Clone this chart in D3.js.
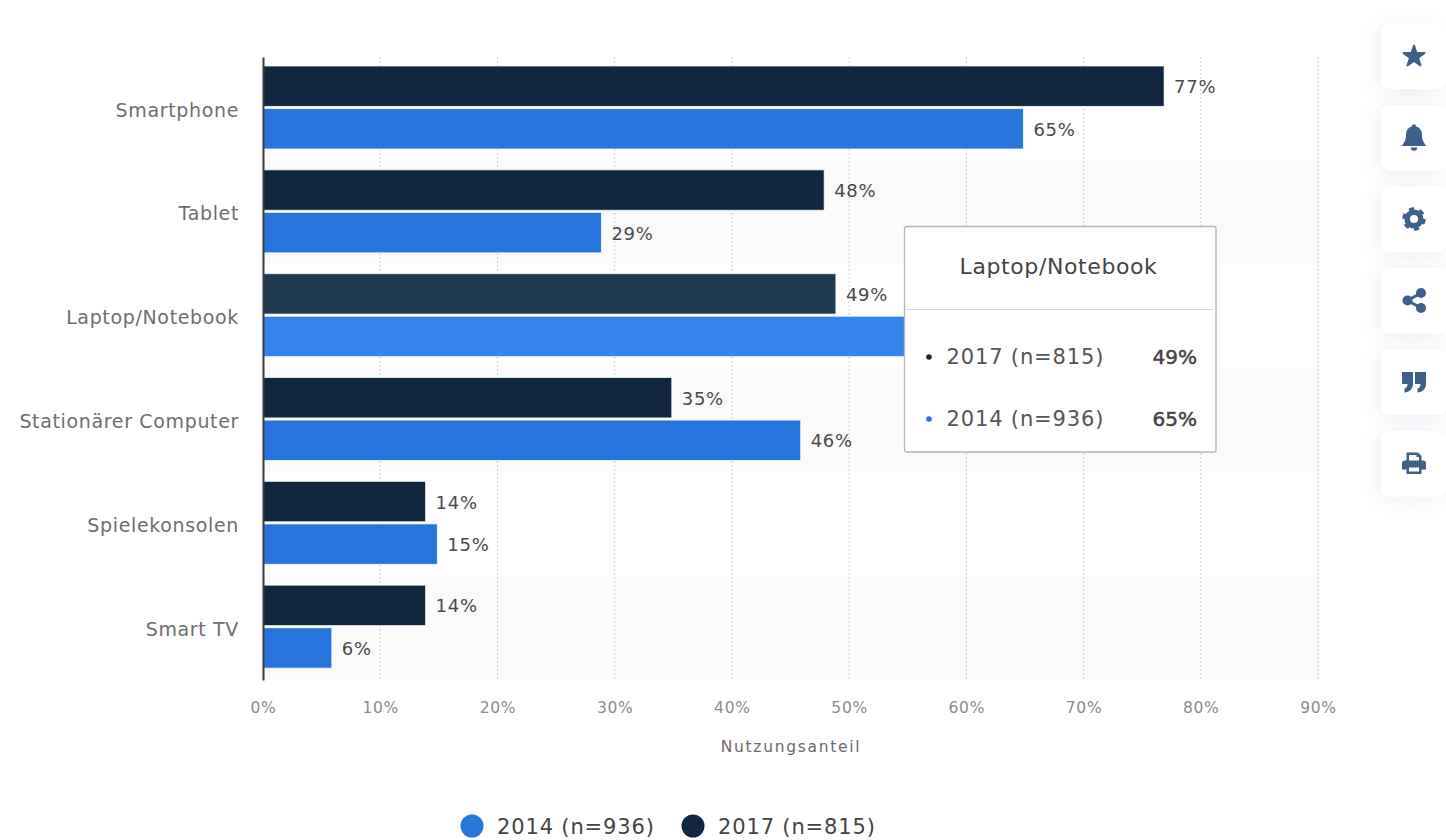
<!DOCTYPE html>
<html lang="de">
<head>
<meta charset="utf-8">
<script src="https://cdn.jsdelivr.net/npm/d3@7"></script>
<style>
  html, body { margin: 0; padding: 0; background: #fff; overflow: hidden; }
  text { font-family: "DejaVu Sans", Verdana, sans-serif; }
</style>
</head>
<body>
<svg id="chart" width="1446" height="840"></svg>
<script>
const categories = ["Smartphone", "Tablet", "Laptop/Notebook", "Stationärer Computer", "Spielekonsolen", "Smart TV"];
const values2017 = [77, 48, 49, 35, 14, 14];
const values2014 = [65, 29, 65, 46, 15, 6];
const seriesNames = ["2017 (n=815)", "2014 (n=936)"];
const legendNames = ["2014 (n=936)", "2017 (n=815)"];
const xTicks = [0, 10, 20, 30, 40, 50, 60, 70, 80, 90];
const axisTitle = "Nutzungsanteil";
const hoveredCategory = "Laptop/Notebook";

const DARK = "#12273f", BLUE = "#2774dc";
const DARK_HOVER = "#203a52", BLUE_HOVER = "#3584ee";

const svg = d3.select("#chart");
const x = d3.scaleLinear().domain([0, 90]).range([263, 1318]);
const y = d3.scaleBand().domain(categories).range([57, 680]);
const series = d3.scaleBand().domain(seriesNames).range([9, 92]).paddingInner(0.05);
const pct = d => d + "%";

// Alternating row shading
svg.append("g").selectAll("rect")
  .data(categories.filter((_, i) => i % 2 === 1))
  .join("rect")
  .attr("x", x(0)).attr("width", x(90) - x(0) + 2)
  .attr("y", d => y(d)).attr("height", y.bandwidth())
  .attr("fill", "#fafafa");

// Dotted vertical grid
svg.append("g").selectAll("line")
  .data(xTicks.slice(1))
  .join("line")
  .attr("x1", d => x(d)).attr("x2", d => x(d))
  .attr("y1", 57).attr("y2", 680)
  .attr("stroke", "#c4c4c4").attr("stroke-width", 1.2)
  .attr("stroke-dasharray", "1.5 2.5");

// Bars, one group per category
const rows = svg.append("g").selectAll("g")
  .data(categories.map((c, i) => ({ c, v: [values2017[i], values2014[i]] })))
  .join("g")
  .attr("transform", d => `translate(0,${y(d.c)})`);

rows.selectAll("rect")
  .data(d => d.v.map((v, j) => ({ v, j, hover: d.c === hoveredCategory })))
  .join("rect")
  .attr("x", x(0))
  .attr("y", d => series(seriesNames[d.j]))
  .attr("width", d => x(d.v) - x(0) - 1.5)
  .attr("height", series.bandwidth())
  .attr("fill", d => d.hover ? (d.j ? BLUE_HOVER : DARK_HOVER) : (d.j ? BLUE : DARK))
  .attr("stroke", "#fff").attr("stroke-opacity", 0.75).attr("stroke-width", 1);

// Value labels; the hovered row's 2014 label sits under the tooltip and stays out
rows.selectAll("text")
  .data(d => d.v.map((v, j) => ({ v, j, covered: d.c === hoveredCategory && j === 1 })).filter(d => !d.covered))
  .join("text")
  .attr("x", d => x(d.v) + 8.5)
  .attr("y", d => series(seriesNames[d.j]) + series.bandwidth() / 2 + 7)
  .attr("font-size", 18).attr("letter-spacing", 0.7).attr("fill", "#4a4a4a")
  .text(d => pct(d.v));

// Category axis
const yAxis = svg.append("g")
  .attr("transform", `translate(${x(0)},0)`)
  .call(d3.axisLeft(y).tickSize(0).tickPadding(24));
yAxis.select(".domain").attr("stroke", "#3a3a3a").attr("stroke-width", 2);
yAxis.selectAll("text")
  .attr("font-size", 19).attr("letter-spacing", 0.65).attr("fill", "#6e6e6e").attr("dy", "0.4em")
  .style("font-family", '"DejaVu Sans", Verdana, sans-serif');

// Value axis labels
const xAxis = svg.append("g")
  .attr("transform", "translate(0,680)")
  .call(d3.axisBottom(x).tickValues(xTicks).tickFormat(pct).tickSize(0).tickPadding(22));
xAxis.select(".domain").remove();
xAxis.selectAll("text")
  .attr("font-size", 15.5).attr("letter-spacing", 0.7).attr("fill", "#8c8c8c")
  .style("font-family", '"DejaVu Sans", Verdana, sans-serif');

svg.append("text")
  .attr("x", 791).attr("y", 752).attr("text-anchor", "middle")
  .attr("font-size", 15.5).attr("letter-spacing", 1.7).attr("fill", "#6a6a6a")
  .text(axisTitle);

// Legend
const legendX = [472, 693];
const legend = svg.append("g").selectAll("g")
  .data(legendNames)
  .join("g")
  .attr("transform", (_, i) => `translate(${legendX[i]},826)`);
legend.append("circle").attr("r", 11.5).attr("fill", (_, i) => i ? DARK : BLUE);
legend.append("text")
  .attr("x", 25).attr("y", 8)
  .attr("font-size", 21).attr("letter-spacing", 0.85).attr("fill", "#444")
  .text(d => d);

// Hover tooltip
const hoverIndex = categories.indexOf(hoveredCategory);
const tip = svg.append("g").attr("transform", "translate(904.5,226.5)");
tip.append("rect").attr("width", 311.5).attr("height", 225.5).attr("rx", 2)
  .attr("fill", "#fff").attr("stroke", "#b5b5b5").attr("stroke-width", 1.3);
tip.append("line").attr("x1", 1).attr("x2", 309).attr("y1", 83).attr("y2", 83)
  .attr("stroke", "#d8d8d8").attr("stroke-width", 1.2);
tip.append("text").attr("x", 154).attr("y", 47).attr("text-anchor", "middle")
  .attr("font-size", 22).attr("letter-spacing", 0.6).attr("fill", "#444").text(hoveredCategory);
const tipRows = tip.selectAll(".row")
  .data([values2017[hoverIndex], values2014[hoverIndex]])
  .join("g")
  .attr("class", "row")
  .attr("transform", (_, i) => `translate(0,${130.5 + i * 62})`);
tipRows.append("circle").attr("cx", 24.5).attr("r", 2.8).attr("fill", (_, i) => i ? BLUE : DARK);
tipRows.append("text").attr("x", 42).attr("y", 7)
  .attr("font-size", 21).attr("letter-spacing", 0.85).attr("fill", "#555")
  .text((_, i) => seriesNames[i]);
tipRows.append("text").attr("x", 292.5).attr("y", 7).attr("text-anchor", "end")
  .attr("font-size", 20).attr("fill", "#444").attr("stroke", "#444").attr("stroke-width", 0.5).text(pct);

// Side toolbar
const defs = svg.append("defs");
const shadow = defs.append("filter").attr("id", "soft")
  .attr("x", "-60%").attr("y", "-60%").attr("width", "220%").attr("height", "220%");
shadow.append("feDropShadow").attr("dx", -3).attr("dy", 3).attr("stdDeviation", 10)
  .attr("flood-color", "#5a6f96").attr("flood-opacity", 0.12);

const toolIcons = ["star", "bell", "gear", "share", "quote", "print"];
const ICON = "#3f6088";
const tools = svg.append("g").selectAll("g")
  .data(toolIcons)
  .join("g")
  .attr("transform", (_, i) => `translate(1381,${23.5 + i * 81.5})`);
tools.append("rect")
  .attr("width", 65.5).attr("height", 65.5).attr("rx", 9)
  .attr("fill", "#fff").attr("filter", "url(#soft)");

const icon = tools.append("g").attr("transform", "translate(33,32.5)").attr("fill", ICON);
const draw = {
  star: g => g.append("path").attr("d", d3.symbol(d3.symbolStar, 135)())
    .attr("transform", "translate(0,0.5)")
    .attr("stroke", ICON).attr("stroke-width", 2).attr("stroke-linejoin", "round"),
  bell: g => {
    g.append("path").attr("d", "M-12.5,8.5 C-8.5,4 -8,1 -8,-3 C-8,-8 -4.5,-10.5 -2.2,-11 C-2.2,-14 2.2,-14 2.2,-11 C4.5,-10.5 8,-8 8,-3 C8,1 8.5,4 12.5,8.5 Z");
    g.append("path").attr("d", "M-3.2,10 H3.2 A3.2,3.2 0 0 1 -3.2,10 Z");
  },
  gear: g => {
    g.append("circle").attr("r", 6.8).attr("fill", "none").attr("stroke", ICON).attr("stroke-width", 5.5);
    g.append("circle").attr("r", 10).attr("fill", "none").attr("stroke", ICON).attr("stroke-width", 3.4)
      .attr("stroke-dasharray", "5.2 5.27");
  },
  share: g => {
    g.append("path").attr("d", "M7,-7.5 L-6.5,0 L7,7.5").attr("fill", "none").attr("stroke", ICON).attr("stroke-width", 3);
    [[7, -7.5], [-6.5, 0], [7, 7.5]].forEach(p =>
      g.append("circle").attr("cx", p[0]).attr("cy", p[1]).attr("r", 5));
  },
  quote: g => {
    [-6.5, 6.5].forEach(dx =>
      g.append("path").attr("transform", `translate(${dx},0)`)
        .attr("d", "M-5.5,-10 H5.5 V2 C5.5,7 2,10 -3,10.5 V6.5 C-1,6 0,4.5 0,2 H-5.5 Z"));
  },
  print: g => {
    g.append("path").attr("fill-rule", "evenodd").attr("d",
      "M-7.5,-3 V-11 H4 L7.5,-7.5 V-3 H9 A3,3 0 0 1 12,0 V6 H7.5 V10.5 H-7.5 V6 H-12 V0 A3,3 0 0 1 -9,-3 Z " +
      "M-5,-8.5 V-3 H5 V-6.5 H2.5 V-8.5 Z M-5,4 V8 H5 V4 Z");
  }
};
icon.each(function (d) { draw[d](d3.select(this)); });
</script>
</body>
</html>
